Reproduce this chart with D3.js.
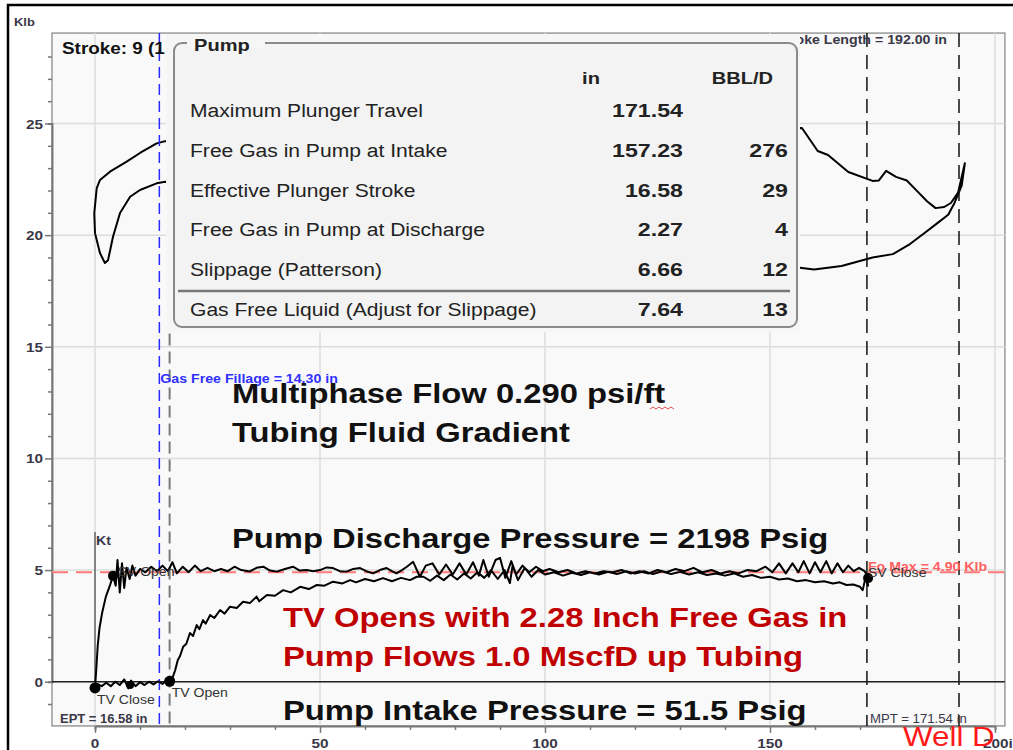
<!DOCTYPE html>
<html>
<head>
<meta charset="utf-8">
<script src="https://cdn.jsdelivr.net/npm/d3@7"></script>
<style>
  body { margin: 0; background: #fff; }
  text { font-family: "Liberation Sans", Arial, sans-serif; }
</style>
</head>
<body>
<script>
// ---- data ----
const xTicksMajor = [0, 50, 100, 150, 200];
const yTicksMajor = [0, 5, 10, 15, 20, 25];

// upper (surface) card, position in, load Klb
const surfaceCard = [
  [0.38, 22.10], [1.11, 22.47], [3.33, 22.84], [7.04, 23.29], [10.0, 23.68], [13.7, 24.11], [15.6, 24.21],
  [157.1, 24.80], [160.6, 23.77], [162.9, 23.59], [167.4, 22.83], [172.8, 22.43], [174.2, 22.45],
  [175.8, 22.88], [178.0, 22.61], [180.4, 22.45], [182.7, 21.97], [184.9, 21.52], [186.8, 21.21],
  [188.7, 21.26], [190.2, 21.44], [191.8, 21.91], [193.3, 23.22],
  [192.6, 22.22], [191.0, 21.44], [189.6, 20.91], [187.2, 20.54], [184.2, 20.07], [181.1, 19.60],
  [177.3, 19.15], [172.8, 19.00], [165.9, 18.62], [159.8, 18.46], [157.1, 18.53],
  [15.6, 22.39], [13.7, 22.32], [10.0, 22.02], [7.8, 21.72], [5.56, 20.99], [4.0, 19.93], [2.9, 18.88],
  [2.2, 18.75], [1.1, 19.20], [0, 20.09], [-0.16, 20.99], [0.38, 22.10]
];

// downhole pump card: upstroke
const upstroke = [
  [0, -0.28], [0.3, 0.6], [0.6, 1.6], [1.0, 2.4], [1.6, 3.1], [2.4, 3.8], [3.3, 4.3], [4.0, 4.74], [4.6, 4.3],
  [5.0, 5.45], [5.5, 4.0], [6.0, 5.3], [6.5, 4.2], [7.0, 5.1], [7.7, 4.6], [8.3, 5.2], [9.0, 4.75], [10.0, 5.05],
  [11.2, 4.9], [12.5, 5.15], [13.8, 4.95], [15.0, 5.2], [16.2, 4.95], [17.2, 5.35], [18.2, 4.85], [19.5, 5.15],
  [20.8, 4.9], [22.2, 5.2], [23.5, 4.95], [25.0, 5.1], [26.5, 4.95], [28.0, 5.05], [29.5, 4.95], [31.0, 5.15],
  [32.5, 5.0], [34.4, 4.94], [35.9, 5.1], [37.4, 5.15], [38.9, 4.98], [40.4, 4.93], [42.2, 5.05], [44.0, 5.15],
  [45.5, 4.98], [47.0, 5.0], [48.5, 4.95], [50.0, 5.0], [51.5, 5.12], [52.9, 5.09], [54.4, 4.95], [55.9, 4.93],
  [57.4, 5.05], [58.9, 5.09], [60.3, 4.95], [61.8, 4.85], [63.3, 5.0], [64.8, 5.09], [66.0, 4.95], [67.0, 4.85],
  [68.2, 5.0], [69.3, 5.15], [70.7, 5.37], [72.2, 4.70], [73.5, 5.2], [75.0, 5.3], [76.5, 4.8], [78.0, 5.25],
  [79.5, 4.8], [81.0, 5.3], [82.5, 4.8], [84.0, 5.35], [85.3, 4.75], [86.3, 5.45], [87.5, 4.7], [89.0, 5.45],
  [90.0, 5.55], [91.2, 4.65], [92.5, 5.4], [93.6, 4.8], [95.0, 5.2], [96.5, 4.9], [98.0, 5.15], [99.5, 4.95],
  [101, 5.05], [103, 4.9], [105, 5.0], [107, 4.85], [109, 4.95], [111, 4.85], [113, 4.95], [115, 4.9],
  [117, 5.0], [119, 4.85], [121, 4.95], [123, 4.85], [125, 5.0], [127, 4.9], [129, 5.05], [131, 4.95],
  [133, 5.1], [135, 4.9], [137, 5.0], [139, 4.85], [141, 4.95], [143, 4.85], [145, 5.0], [147, 4.95],
  [149, 5.15], [150.5, 4.9], [152, 5.3], [153.5, 4.85], [155, 5.3], [156.3, 4.9], [157.5, 5.4], [158.8, 4.85],
  [160, 5.35], [161.2, 4.9], [162.5, 5.4], [163.7, 4.85], [165, 5.3], [166.2, 4.9], [167.4, 5.2], [168.6, 4.95],
  [169.8, 5.1], [171.0, 4.95], [171.5, 4.8]
];

// downstroke, back from max plunger travel to the TV opening
const downstroke = [
  [171.5, 4.8], [171.8, 4.3], [171.2, 4.64], [170.6, 4.1], [170, 4.25], [168.5, 4.35], [167, 4.33], [165.5, 4.45],
  [164, 4.4], [162, 4.5], [160, 4.45], [158, 4.55], [156, 4.5], [154, 4.62], [152, 4.58], [150, 4.7], [148, 4.65],
  [146, 4.78], [144, 4.7], [142, 4.85], [140, 4.75], [138, 4.85], [136, 4.78], [134, 4.9], [132, 4.8], [130, 4.92],
  [128, 4.82], [126, 4.95], [124, 4.82], [122, 4.95], [120, 4.85], [118, 4.95], [116, 4.82], [114, 4.92],
  [112, 4.8], [110, 4.9], [108, 4.78], [106, 4.88], [104, 4.75], [102, 4.9], [100, 4.8], [98.5, 5.0], [97, 4.7],
  [95.5, 5.1], [94, 4.55], [92.8, 5.2], [92.2, 4.42], [91, 5.0], [89.5, 4.6], [88, 5.0], [86.5, 4.65], [85, 4.9],
  [83.5, 4.62], [82, 4.85], [80.5, 4.58], [79, 4.8], [77.5, 4.55], [76, 4.75], [74.5, 4.52], [73, 4.7],
  [71.5, 4.7], [70, 4.55], [68, 4.65], [66, 4.5], [64, 4.64], [62, 4.5], [60, 4.6], [58, 4.45], [56.7, 4.55],
  [55, 4.4], [52.9, 4.48], [51, 4.3], [49.3, 4.33], [47.5, 4.15], [45.6, 4.25], [43.5, 4.0], [41.8, 4.1],
  [40, 3.85], [38.2, 3.88], [36.5, 3.6], [35.9, 3.81], [34.4, 3.52], [32.9, 3.58], [31.5, 3.3], [30, 3.36],
  [28.8, 3.05], [27.8, 3.21], [26.5, 2.85], [25.6, 2.99], [24.6, 2.6], [24, 2.76], [23.2, 2.35], [22.6, 2.54],
  [21.8, 2.05], [21.1, 2.18], [20.3, 1.7], [19.6, 1.57], [18.9, 1.15], [18.4, 0.97], [17.8, 0.5], [17.3, 0.22],
  [16.7, 0]
];

// low load part back to TV close
const baseline = [
  [16.7, 0], [15.8, 0.05], [15, -0.1], [14, 0.02], [13, -0.12], [12, 0.0], [11, -0.15], [10, -0.02], [9, -0.2],
  [8, 0.05], [7.4, -0.3], [6.5, 0.1], [5.5, -0.15], [4.5, 0.0], [3.5, -0.2], [2.5, -0.05], [1.5, -0.2],
  [0.5, -0.1], [0, -0.28]
];

const valvePoints = [
  { x: 0, y: -0.28, r: 5.5 },
  { x: 7.8, y: -0.15, r: 4 },
  { x: 4.0, y: 4.74, r: 5 },
  { x: 16.6, y: 0.02, r: 5.5 },
  { x: 171.8, y: 4.64, r: 5 }
];

const gasFreeFillage = 14.30;
const ept = 16.58;
const mpt = 171.54;
const strokeLength = 192.0;
const foMax = 4.90;

const tableLabels = ["Maximum Plunger Travel", "Free Gas in Pump at Intake", "Effective Plunger Stroke",
  "Free Gas in Pump at Discharge", "Slippage (Patterson)", "Gas Free Liquid (Adjust for Slippage)"];
const tableInches = ["171.54", "157.23", "16.58", "2.27", "6.66", "7.64"];
const tableBbl = ["", "276", "29", "4", "12", "13"];

const width = 1013, height = 750;
const STRETCH = 1.18;
const labelColor = "#3a3848";

const svg = d3.select("body").append("svg")
  .attr("width", width).attr("height", height)
  .attr("viewBox", [0, 0, width, height]);

// horizontally widen text, the source picture is stretched
function stretch(sel, k = STRETCH) {
  sel.each(function () {
    const w = this.getComputedTextLength();
    d3.select(this).attr("textLength", w * k).attr("lengthAdjust", "spacingAndGlyphs");
  });
  return sel;
}

const x = d3.scaleLinear().domain([0, 200]).range([95, 995]);
const y = d3.scaleLinear().domain([0, 25]).range([681.7, 123.5]);
const xMin = -9.56, xMax = 202.2, yMin = -1.98, yMax = 29.05;

// outer frame
svg.append("rect").attr("width", width).attr("height", height).attr("fill", "#fff");
svg.append("path").attr("d", `M8,${height}V5H${width}`).attr("fill", "none").attr("stroke", "#000").attr("stroke-width", 2.5);

// plot area
svg.append("rect")
  .attr("x", x(xMin)).attr("y", y(yMax))
  .attr("width", x(xMax) - x(xMin)).attr("height", y(yMin) - y(yMax))
  .attr("fill", "#f9f9f9").attr("stroke", "#9a9a9a").attr("stroke-width", 1.5);

// grid
const grid = svg.append("g").attr("stroke", "#dcdcdc").attr("stroke-width", 1.5);
grid.selectAll(".gx").data(xTicksMajor).join("line")
  .attr("x1", d => x(d)).attr("x2", d => x(d)).attr("y1", y(yMax)).attr("y2", y(yMin));
grid.selectAll(".gy").data(yTicksMajor).join("line")
  .attr("x1", x(xMin)).attr("x2", x(xMax)).attr("y1", d => y(d)).attr("y2", d => y(d));

// axes
const yAxis = svg.append("g").attr("transform", `translate(${x(xMin)},0)`)
  .call(d3.axisLeft(y).tickValues(d3.range(-1, 29, 1)).tickSize(4).tickFormat(""));
yAxis.selectAll(".tick line").filter(d => d % 5 === 0).attr("x2", -7);
yAxis.selectAll("path,line").attr("stroke", "#777").attr("stroke-width", 1.5);
yAxis.select(".domain").attr("stroke-width", 2);
svg.append("g").selectAll("text").data(yTicksMajor).join("text")
  .attr("x", x(xMin) - 9).attr("y", d => y(d) + 5)
  .attr("text-anchor", "end").attr("font-size", 13).attr("font-weight", "bold").attr("fill", labelColor)
  .text(d => d).call(stretch);

const xAxis = svg.append("g").attr("transform", `translate(0,${y(yMin)})`)
  .call(d3.axisBottom(x).tickValues(d3.range(0, 201, 10)).tickSize(4).tickFormat(""));
xAxis.selectAll(".tick line").filter(d => d % 50 === 0).attr("y2", 7);
xAxis.selectAll("path,line").attr("stroke", "#777").attr("stroke-width", 1.5);
xAxis.select(".domain").attr("stroke-width", 2);
svg.append("g").selectAll("text").data(xTicksMajor).join("text")
  .attr("x", d => d === 200 ? x(d) - 12 : x(d)).attr("y", y(yMin) + 22)
  .attr("text-anchor", d => d === 200 ? "start" : "middle")
  .attr("font-size", 13).attr("font-weight", "bold").attr("fill", labelColor)
  .text(d => d === 200 ? "200in" : d).call(stretch);

svg.append("text").attr("x", 14).attr("y", 26).attr("font-size", 11).attr("font-weight", "bold")
  .attr("fill", labelColor).text("Klb").call(stretch);

const line = d3.line().x(d => x(d[0])).y(d => y(d[1]));

// upper card
svg.append("path").attr("d", line(surfaceCard)).attr("fill", "none")
  .attr("stroke", "#000").attr("stroke-width", 2).attr("stroke-linejoin", "round");

// reference lines
svg.append("line").attr("x1", x(gasFreeFillage)).attr("x2", x(gasFreeFillage))
  .attr("y1", y(yMax)).attr("y2", y(yMin))
  .attr("stroke", "#2a2aff").attr("stroke-width", 1.5).attr("stroke-dasharray", "11,6");
svg.append("line").attr("x1", x(ept)).attr("x2", x(ept))
  .attr("y1", y(15.6)).attr("y2", y(yMin))
  .attr("stroke", "#7a7a7a").attr("stroke-width", 2).attr("stroke-dasharray", "12,6");
svg.selectAll(".vdash").data([mpt, strokeLength]).join("line")
  .attr("x1", d => x(d)).attr("x2", d => x(d)).attr("y1", y(yMax)).attr("y2", y(yMin))
  .attr("stroke", "#111").attr("stroke-width", 1.5).attr("stroke-dasharray", "14,8");
svg.append("line").attr("x1", x(xMin)).attr("x2", x(xMax)).attr("y1", y(foMax)).attr("y2", y(foMax))
  .attr("stroke", "#ff7a7a").attr("stroke-width", 2).attr("stroke-dasharray", "16,8");
svg.append("line").attr("x1", x(xMin)).attr("x2", x(xMax)).attr("y1", y(0)).attr("y2", y(0))
  .attr("stroke", "#222").attr("stroke-width", 1.5);
svg.append("line").attr("x1", x(0)).attr("x2", x(0)).attr("y1", y(6.7)).attr("y2", y(0))
  .attr("stroke", "#222").attr("stroke-width", 1);

// text behind the pump box
svg.append("text").attr("x", 62).attr("y", 54).attr("font-size", 16).attr("font-weight", "bold")
  .attr("fill", "#111").text("Stroke: 9 (1 of 10)").call(stretch);
svg.append("text").attr("x", x(strokeLength) - 12).attr("y", 44).attr("text-anchor", "end")
  .attr("font-size", 12).attr("font-weight", "bold").attr("fill", labelColor)
  .text("Stroke Length = 192.00 in").call(stretch);

// pump table box (group box: its panel starts at the top of the plot)
const box = svg.append("g");
box.append("rect").attr("x", 166).attr("y", y(yMax) + 1).attr("width", 634).attr("height", 298)
  .attr("fill", "#f6f6f6");
box.append("rect").attr("x", 174).attr("y", 43).attr("width", 623).attr("height", 284).attr("rx", 8)
  .attr("fill", "#f3f3f3").attr("stroke", "#8a8a8a").attr("stroke-width", 2);
box.append("rect").attr("x", 187).attr("y", 38).attr("width", 78).attr("height", 10).attr("fill", "#f6f6f6");
box.append("text").attr("x", 194).attr("y", 51).attr("font-size", 17).attr("font-weight", "bold")
  .attr("fill", "#222").text("Pump").call(stretch);
box.append("text").attr("x", 591).attr("y", 84).attr("text-anchor", "middle").attr("font-size", 17)
  .attr("font-weight", "bold").attr("fill", "#222").text("in").call(stretch);
box.append("text").attr("x", 773).attr("y", 84).attr("text-anchor", "end").attr("font-size", 17)
  .attr("font-weight", "bold").attr("fill", "#222").text("BBL/D").call(stretch);

const rowY = d3.scaleLinear().domain([0, 5]).range([117, 316]);
box.selectAll(".lab").data(tableLabels).join("text")
  .attr("x", 190).attr("y", (d, i) => rowY(i)).attr("font-size", 18).attr("fill", "#222")
  .text(d => d).call(stretch, 1.17);
box.selectAll(".inch").data(tableInches).join("text")
  .attr("x", 683).attr("y", (d, i) => rowY(i)).attr("text-anchor", "end").attr("font-size", 19)
  .attr("font-weight", "bold").attr("fill", "#222").text(d => d).call(stretch, 1.22);
box.selectAll(".bbl").data(tableBbl).join("text")
  .attr("x", 788).attr("y", (d, i) => rowY(i)).attr("text-anchor", "end").attr("font-size", 19)
  .attr("font-weight", "bold").attr("fill", "#222").text(d => d).call(stretch, 1.22);
box.append("line").attr("x1", 178).attr("x2", 790).attr("y1", 291).attr("y2", 291)
  .attr("stroke", "#777").attr("stroke-width", 2.5);

// small labels
svg.append("text").attr("x", x(gasFreeFillage) + 1).attr("y", 383).attr("font-size", 12)
  .attr("font-weight", "bold").attr("fill", "#3030ff").text("Gas Free Fillage = 14.30 in").call(stretch);
svg.append("text").attr("x", x(mpt) + 1).attr("y", y(foMax) - 1).attr("font-size", 12)
  .attr("font-weight", "bold").attr("fill", "#ff6060").text("Fo Max = 4.90 Klb").call(stretch);
svg.append("text").attr("x", x(0) + 1).attr("y", 545).attr("font-size", 12).attr("font-weight", "bold")
  .attr("fill", labelColor).text("Kt").call(stretch);
svg.append("text").attr("x", 60).attr("y", 723).attr("font-size", 12).attr("font-weight", "bold")
  .attr("fill", labelColor).text("EPT = 16.58 in").call(stretch, 1.08);
svg.append("text").attr("x", x(mpt) + 3).attr("y", 723).attr("font-size", 12)
  .attr("fill", labelColor).text("MPT = 171.54 in").call(stretch, 1.1);

// big annotations
const big = [
  { t: "Multiphase Flow 0.290 psi/ft", x: 232, y: 403, c: "#111" },
  { t: "Tubing Fluid Gradient", x: 232, y: 442, c: "#111" },
  { t: "Pump Discharge Pressure = 2198 Psig", x: 232, y: 548, c: "#111" },
  { t: "TV Opens with 2.28 Inch Free Gas in", x: 283, y: 627, c: "#c00000" },
  { t: "Pump Flows 1.0 MscfD up Tubing", x: 283, y: 666, c: "#c00000" },
  { t: "Pump Intake Pressure = 51.5 Psig", x: 283, y: 720, c: "#111" }
];
svg.selectAll(".big").data(big).join("text")
  .attr("x", d => d.x).attr("y", d => d.y).attr("font-size", 28).attr("font-weight", "bold")
  .attr("fill", d => d.c).text(d => d.t).call(stretch, 1.17);
// spell-check squiggle under "ft"
svg.append("path").attr("d", "M650,409 l3,-2 l3,2 l3,-2 l3,2 l3,-2 l3,2 l3,-2 l3,2")
  .attr("fill", "none").attr("stroke", "#e05050").attr("stroke-width", 1);

// pump card
svg.append("path").attr("d", line(upstroke.concat(downstroke, baseline))).attr("fill", "none")
  .attr("stroke", "#000").attr("stroke-width", 2).attr("stroke-linejoin", "round");
svg.selectAll(".dot").data(valvePoints).join("circle")
  .attr("cx", d => x(d.x)).attr("cy", d => y(d.y)).attr("r", d => d.r).attr("fill", "#000");

const valveLabels = [
  { t: "SV Open", x: 5, y: 4.74, dx: 0, dy: 0 },
  { t: "TV Close", x: 0, y: 0, dx: 2, dy: 22 },
  { t: "TV Open", x: 16.6, y: 0, dx: 2, dy: 15 },
  { t: "SV Close", x: mpt, y: foMax, dx: 1, dy: 5 }
];
svg.selectAll(".vl").data(valveLabels).join("text")
  .attr("x", d => x(d.x) + d.dx).attr("y", d => y(d.y) + d.dy).attr("font-size", 13)
  .attr("fill", "#333").text(d => d.t).call(stretch, 1.08);

svg.append("text").attr("x", 903).attr("y", 746).attr("font-size", 28).attr("fill", "#ff1a1a")
  .text("Well D").call(stretch, 1.12);
</script>
</body>
</html>
